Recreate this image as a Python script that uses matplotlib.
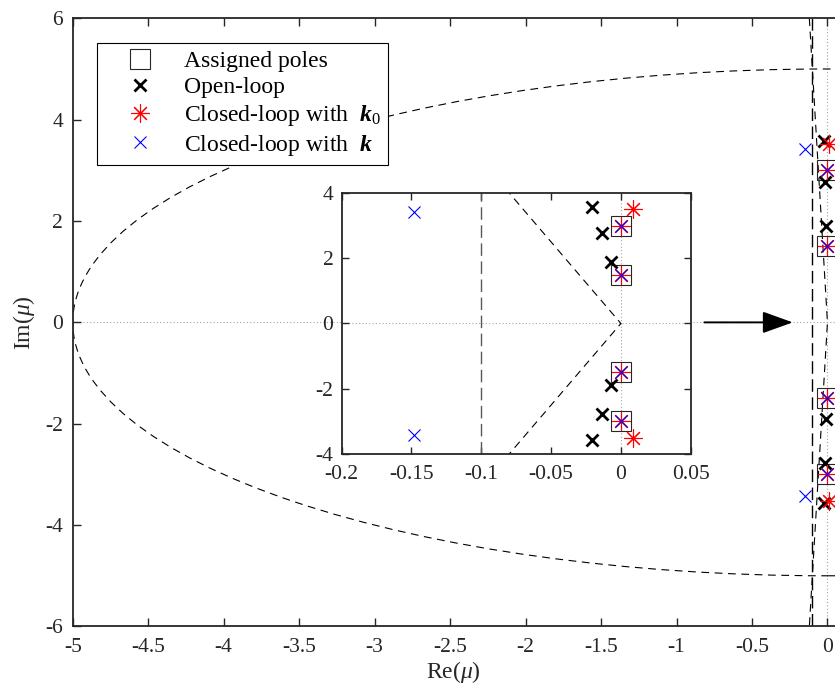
import numpy as np
import matplotlib
matplotlib.use('Agg')
import matplotlib.pyplot as plt
from matplotlib.patches import Circle

plt.rcParams['font.family'] = ['Liberation Serif', 'DejaVu Serif']
plt.rcParams['mathtext.fontset'] = 'custom'
plt.rcParams['mathtext.rm'] = 'Liberation Serif'
plt.rcParams['mathtext.it'] = 'Liberation Serif:italic'
plt.rcParams['mathtext.bf'] = 'Liberation Serif:bold'
plt.rcParams['mathtext.bfit'] = 'Liberation Serif:italic:bold'
plt.rcParams['axes.unicode_minus'] = False

assigned_re = [0, 0, 0, 0]
assigned_im = [3, 1.5, -1.5, -3]
open_re = [-0.021, -0.0135, -0.007, -0.007, -0.0135, -0.021]
open_im = [3.57, 2.77, 1.9, -1.9, -2.77, -3.57]
k0_re = [0.009, 0, 0, 0, 0, 0.009]
k0_im = [3.52, 3, 1.5, -1.5, -3, -3.52]
k_re = [-0.148, 0, 0, 0, 0, -0.148]
k_im = [3.42, 3, 1.5, -1.5, -3, -3.42]

# pole region boundaries
radius = 5
alpha = -0.1
sector_re = [-0.12, 0, -0.12]
sector_im = [6, 0, -6]

# arrow from the zoom box to the poles
arrow_from = (-0.815, 0)
arrow_to = (-0.23, 0)

main_xticks = [-5, -4.5, -4, -3.5, -3, -2.5, -2, -1.5, -1, -0.5, 0]
main_xlabels = ['-5', '-4.5', '-4', '-3.5', '-3', '-2.5', '-2', '-1.5', '-1', '-0.5', '0']
main_yticks = [-6, -4, -2, 0, 2, 4, 6]
ins_xticks = [-0.2, -0.15, -0.1, -0.05, 0, 0.05]
ins_xlabels = ['-0.2', '-0.15', '-0.1', '-0.05', '0', '0.05']
ins_yticks = [-4, -2, 0, 2, 4]

dark = '#262626'


def draw_poles(ax, sq=14, ms=9):
    ax.plot(assigned_re, assigned_im, 's', ms=sq, mfc='none', mec='0.15', mew=0.8,
            label='Assigned poles')
    ax.plot(open_re, open_im, 'x', ms=ms, mec='k', mew=2.0, label='Open-loop')
    ax.plot(k0_re, k0_im, ls='none', marker=(8, 2, 0), ms=ms + 4, mec='#ff0000', mew=0.8,
            label=r'Closed-loop with  $\mathbfit{k}_0$')
    ax.plot(k_re, k_im, 'x', ms=ms, mec='#0000ff', mew=0.8,
            label=r'Closed-loop with  $\mathbfit{k}$')


def draw_bounds(ax, vcolor='k'):
    ax.axhline(0, color='0.65', ls=(0, (1, 2)), lw=0.8, zorder=0)
    ax.axvline(0, color='0.65', ls=(0, (1, 2)), lw=0.8, zorder=0)
    ax.add_patch(Circle((0, 0), radius, fill=False, ec='k', lw=0.8, ls=(0, (7, 5))))
    ax.axvline(alpha, color=vcolor, lw=1.0, ls=(0, (9, 4)))
    ax.plot(sector_re, sector_im, color='k', lw=0.8, ls=(0, (7, 5)))


fig = plt.figure(figsize=(8.35, 6.93), dpi=100)
ax = fig.add_axes([0.0871, 0.096, 0.9129, 0.8776])
draw_bounds(ax)
draw_poles(ax)
ax.annotate('', xy=arrow_to, xytext=arrow_from,
            arrowprops=dict(arrowstyle='-|>,head_length=0.75,head_width=0.27',
                            color='k', lw=1.4, mutation_scale=25, shrinkA=0, shrinkB=0))
ax.set_xlim(-5, 0.05)
ax.set_ylim(-6, 6)
ax.set_xticks(main_xticks)
ax.set_xticklabels(main_xlabels)
ax.set_yticks(main_yticks)
ax.tick_params(direction='in', top=True, right=False, length=6, width=1.0,
               labelsize=15.5, colors=dark, pad=8)
ax.tick_params(axis='y', pad=7)
for s in ['left', 'bottom', 'top']:
    ax.spines[s].set_linewidth(1.3)
    ax.spines[s].set_color(dark)
ax.spines['right'].set_visible(False)
ax.set_xlabel(r'Re($\mu$)', fontsize=17, color=dark, labelpad=2)
ax.set_ylabel(r'Im($\mu$)', fontsize=17, color=dark, labelpad=6)

leg = ax.legend(loc='upper left', bbox_to_anchor=(0.032, 0.959), borderaxespad=0,
                fontsize=17, frameon=True, fancybox=False, framealpha=1,
                edgecolor='k', handlelength=3.0, handletextpad=0.4, borderpad=0.3,
                labelspacing=0.2)
leg.get_frame().set_linewidth(0.8)

ins = fig.add_axes([0.4092, 0.3449, 0.418, 0.3766])
draw_bounds(ins, vcolor='0.35')
draw_poles(ins)
ins.set_xlim(-0.2, 0.05)
ins.set_ylim(-4, 4)
ins.set_xticks(ins_xticks)
ins.set_xticklabels(ins_xlabels)
ins.set_yticks(ins_yticks)
ins.tick_params(direction='in', top=True, right=True, length=5, width=1.0,
                labelsize=15.5, colors=dark, pad=8)
ins.tick_params(axis='y', pad=6)
for s in ins.spines.values():
    s.set_linewidth(1.3)
    s.set_color(dark)

fig.savefig('out.png', dpi=100)
